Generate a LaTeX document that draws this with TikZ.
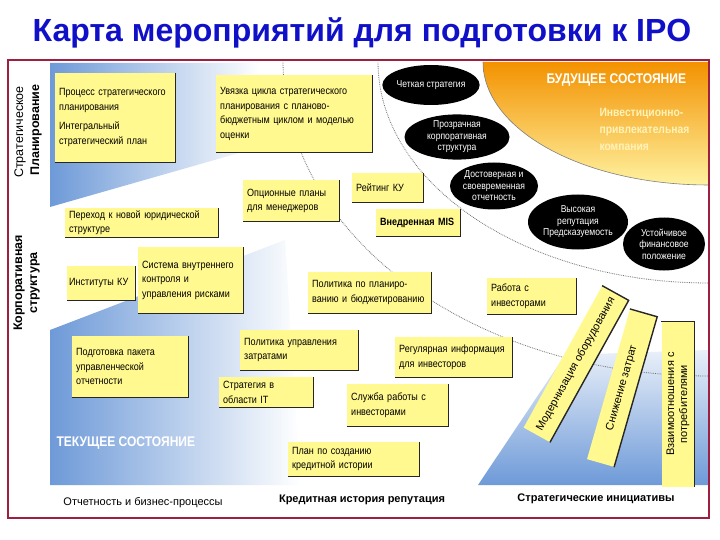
\documentclass[tikz,border=0pt]{standalone}
\usepackage{fontspec}
\setmainfont{Liberation Sans}
\newfontfamily\narrowfont[FakeStretch=0.86]{Liberation Sans}
\usepackage{tikz}
\usetikzlibrary{shapes.geometric}

\definecolor{boxyellow}{HTML}{FFF98F}
\definecolor{framered}{HTML}{9E1F3F}
\definecolor{titleblue}{HTML}{1010C8}
\definecolor{planblue}{HTML}{6E9AD8}
\definecolor{futureorange}{HTML}{F39200}
\definecolor{futuremid}{HTML}{FFC43A}
\definecolor{futureyellow}{HTML}{FFF2A0}
\definecolor{paletext}{HTML}{FFF3B8}

\newcommand{\boxfont}{\narrowfont\fontsize{10.5}{14.5}\selectfont}
\newcommand{\stripfont}{\fontsize{11}{13}\selectfont}
\newcommand{\blobfont}{\narrowfont\fontsize{10}{11.5}\selectfont}
\newcommand{\sidefont}{\fontsize{12.5}{14}\selectfont}
\newcommand{\labelfont}{\fontsize{11}{13}\selectfont}
\newcommand{\statefont}{\narrowfont\bfseries\fontsize{14}{16}\selectfont}

\begin{document}
\begin{tikzpicture}[x=1pt,y=-1pt,
  box/.style={fill=boxyellow, anchor=north west, inner xsep=4pt, inner ysep=2pt, align=left, font=\boxfont},
  blob/.style={ellipse, fill=black, text=white, inner sep=0pt, align=center, font=\blobfont},
  strip/.style={fill=boxyellow, inner sep=2pt, align=center, font=\stripfont},
  shadowline/.style={black!85, line width=1.4pt},
  arcline/.style={black!55, densely dotted, line width=0.8pt}]
\useasboundingbox (0,0) rectangle (720,540);
\fill[white] (0,0) rectangle (720,540);

% title
\node (title) at (362,33) [font=\bfseries\fontsize{32}{34}\selectfont, text=titleblue] {Карта мероприятий для подготовки к IPO};

% background regions
\shade[left color=planblue, right color=white] (50,63) -- (260,63) -- (260,147) -- (50,207) -- cycle;
\shade[left color=planblue, right color=white] (50,485) -- (50,330) -- (285,240) -- (300,485) -- cycle;
\shade[top color=planblue!15!white, bottom color=planblue] (478,485) -- (565,355) -- (708,350) -- (708,485) -- cycle;
\shade[top color=futureorange, middle color=futuremid, bottom color=futureyellow] (483,62) -- (708,62) -- (708,185)
  -- plot[domain=90:180, samples=40] ({708+225*cos(\x)},{62+123*sin(\x)}) -- cycle;
\draw[black!50, line width=0.6pt] plot[domain=90:180, samples=40] ({708+225*cos(\x)},{62+123*sin(\x)});

% dotted borders
\draw[arcline] plot[domain=90:180, samples=60] ({708+425*cos(\x)},{62+314*sin(\x)});
\draw[arcline] plot[domain=90:180, samples=60] ({708+330*cos(\x)},{62+221*sin(\x)});

% frame
\draw[framered, line width=2.6pt] (8,60) rectangle (709,518);

% side labels
\node (stratA) at (20,132) [rotate=90, font=\sidefont] {Стратегическое};
\node (stratB) at (36,130) [rotate=90, font=\sidefont\bfseries] {Планирование};
\node (corpA) at (19,283) [rotate=90, font=\sidefont\bfseries] {Корпоративная};
\node (corpB) at (35,283) [rotate=90, font=\sidefont\bfseries] {структура};

% state labels
\node (future) at (543,80) [anchor=west, font=\statefont, text=white] {БУДУЩЕЕ СОСТОЯНИЕ};
\node (goal) at (596,129) [anchor=west, align=left, font=\narrowfont\bfseries\fontsize{12}{17}\selectfont, text=paletext] {Инвестиционно-\\привлекательная\\компания};
\node (current) at (53,443) [anchor=west, font=\statefont, text=white] {ТЕКУЩЕЕ СОСТОЯНИЕ};

% activities
\node (plan) at (55,73) [box, text width=112pt, minimum height=89pt] {Процесс стратегического\\планирования\\[5pt]Интегральный\\стратегический план};
\node (cycle) at (216,75) [box, text width=148pt, minimum height=77pt] {Увязка цикла стратегического\\планирования с планово-\\бюджетным циклом и моделью\\оценки};
\node (options) at (243,180) [box, text width=88pt, minimum height=41pt] {Опционные планы\\для менеджеров};
\node (rating) at (352,173) [box, text width=63pt, minimum height=29pt] {Рейтинг КУ};
\node (mis) at (376,209) [box, text width=76pt, minimum height=27pt, font=\boxfont\bfseries] {Внедренная MIS};
\node (legal) at (65,208) [box, text width=145pt, minimum height=29pt] {Переход к новой юридической\\структуре};
\node (institutes) at (67,266) [box, inner xsep=2pt, text width=64pt, minimum height=34pt] {Институты КУ};
\node (control) at (138,247) [box, text width=97pt, minimum height=66pt] {Система внутреннего\\контроля и\\управления рисками};
\node (budget) at (308,272) [box, text width=115pt, minimum height=41pt] {Политика по планиро-\\ванию и бюджетированию};
\node (investors) at (487,278) [box, text width=81pt, minimum height=36pt] {Работа с\\инвесторами};
\node (costs) at (240,330) [box, text width=110pt, minimum height=40pt] {Политика управления\\затратами};
\node (reporting) at (72,336) [box, text width=108pt, minimum height=61pt] {Подготовка пакета\\управленческой\\отчетности};
\node (itplan) at (219,377) [box, text width=86pt, minimum height=30pt] {Стратегия в\\области IT};
\node (info) at (395,337) [box, text width=109pt, minimum height=40pt] {Регулярная информация\\для инвесторов};
\node (service) at (347,384) [box, text width=93pt, minimum height=42pt] {Служба работы с\\инвесторами};
\node (credit) at (288,442) [box, text width=123pt, minimum height=34pt] {План по созданию\\кредитной истории};

% initiatives
\node (equipment) at (576,364) [strip, rotate=61, minimum width=162pt, minimum height=30pt] {Модернизация оборудования};
\node (savings) at (622,388) [strip, rotate=74, minimum width=156pt, minimum height=28pt] {Снижение затрат};
\node (clients) at (678,404) [strip, rotate=90, minimum width=165pt, minimum height=33pt] {Взаимоотношения с\\потребителями};

\foreach \n in {plan,cycle,options,rating,mis,legal,institutes,control,budget,investors,costs,reporting,itplan,info,service,credit,equipment,savings,clients}
  \draw[shadowline] (\n.north east) -- (\n.south east) -- (\n.south west);

% goals
\node (clear) at (431,85) [blob, minimum width=86pt, minimum height=40pt] {Четкая стратегия};
\node (transparent) at (457,137) [blob, minimum width=105pt, minimum height=42pt] {Прозрачная\\корпоративная\\структура};
\node (reliable) at (494,186) [blob, minimum width=88pt, minimum height=47pt] {Достоверная и\\своевременная\\отчетность};
\node (reputation) at (578,222) [blob, minimum width=100pt, minimum height=55pt] {Высокая\\репутация\\Предсказуемость};
\node (stable) at (664,244) [blob, minimum width=82pt, minimum height=53pt] {Устойчивое\\финансовое\\положение};

% bottom labels
\node (processLabel) at (143,503) [font=\labelfont] {Отчетность и бизнес-процессы};
\node (creditLabel) at (362,500) [font=\labelfont\bfseries] {Кредитная история репутация};
\node (initLabel) at (596,499) [font=\labelfont\bfseries] {Стратегические инициативы};
\end{tikzpicture}
\end{document}
